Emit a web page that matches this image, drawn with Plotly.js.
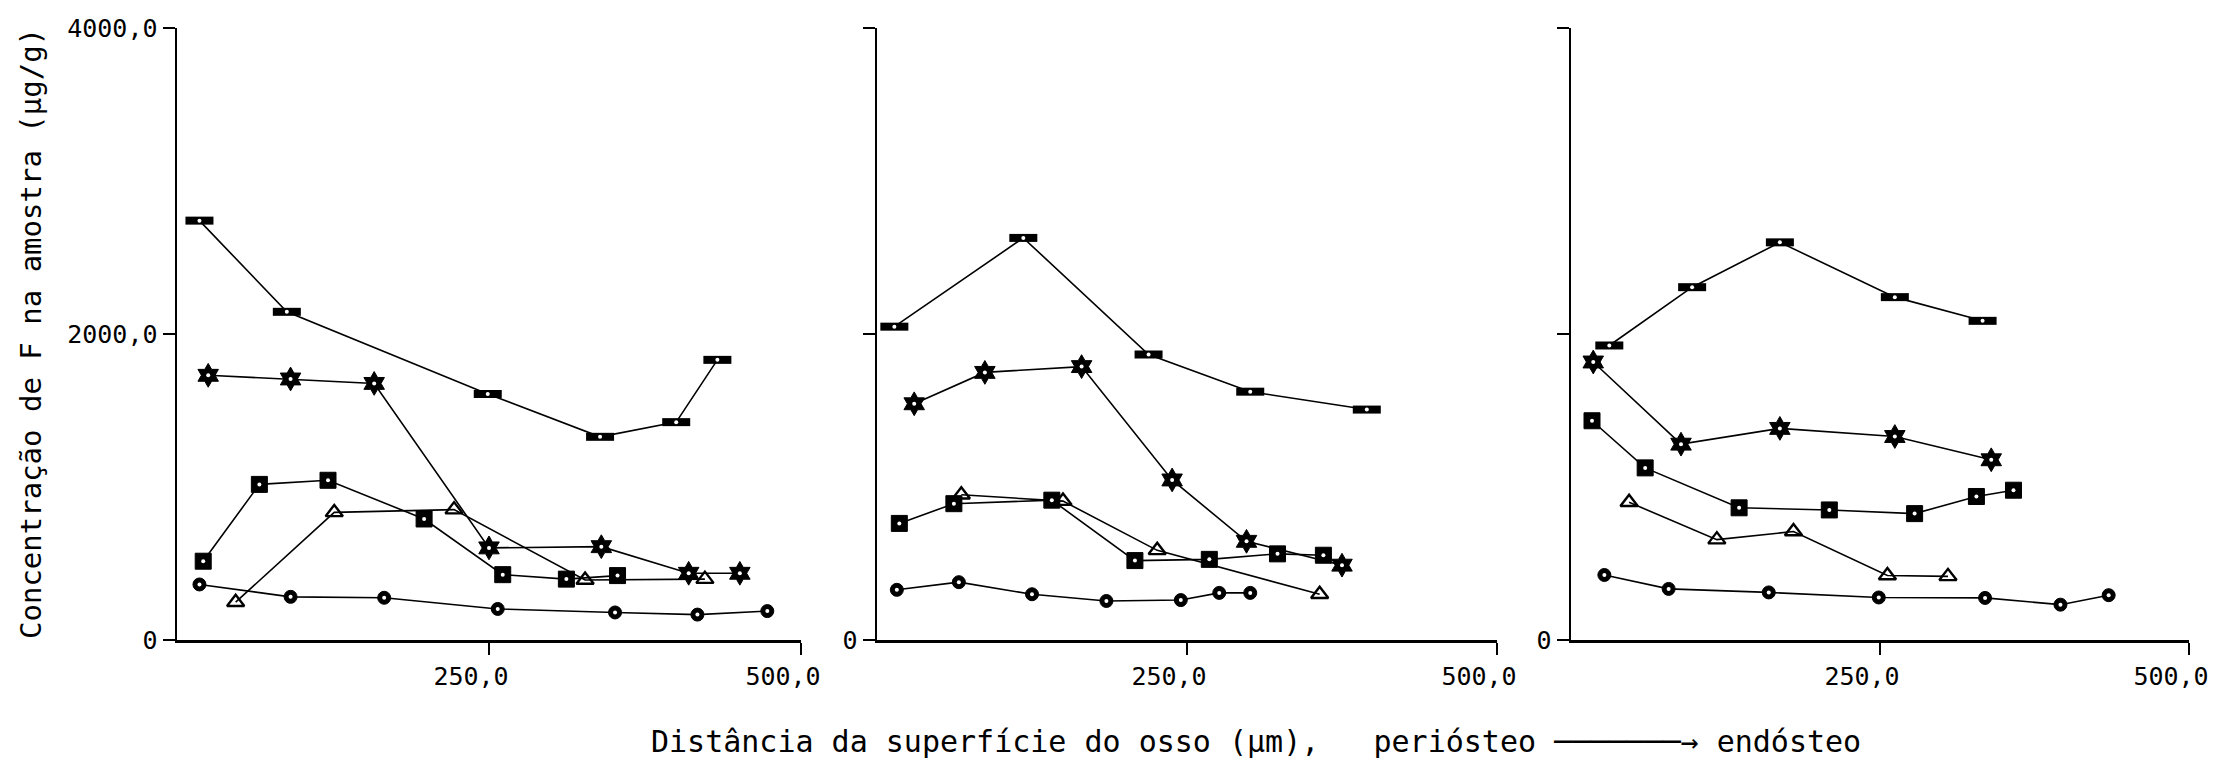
<!DOCTYPE html>
<html><head><meta charset="utf-8">
<script src="https://cdn.plot.ly/plotly-3.0.1.min.js"></script>
<style>html,body{margin:0;padding:0;background:#fff;}</style>
</head><body>
<div id="chart" style="width:2221px;height:761px;"></div>
<script>
// ---- tick labels & titles ----
const xTickVals = [250, 500];
const xTickText = ['250,0', '500,0'];
const yTickVals = [0, 2000, 4000];
const yTickTextFirst = ['0', '2000,0', '4000,0'];
const yTickTextOther = ['0', '', ''];
const xTitle = 'Distância da superfície do osso (µm),\u00A0\u00A0\u00A0periósteo\u00A0───────→\u00A0endósteo';
const yTitle = 'Concentração de F na amostra (µg/g)';

// ---- Panel 1 ----
const p1BarX = [18, 88, 249, 339, 400, 433];
const p1BarY = [2741, 2145, 1608, 1328, 1424, 1831];
const p1StarX = [25, 91, 158, 250, 340, 410, 451];
const p1StarY = [1730, 1706, 1677, 602, 610, 436, 436];
const p1SquareX = [21, 66, 121, 198, 261, 312, 353];
const p1SquareY = [515, 1017, 1044, 791, 427, 398, 421];
const p1TriX = [47, 126, 222, 327, 423];
const p1TriY = [247, 834, 852, 392, 398];
const p1CircX = [18, 91, 166, 257, 351, 417, 473];
const p1CircY = [363, 282, 276, 203, 180, 166, 189];

// ---- Panel 2 ----
const p2BarX = [14, 118, 219, 301, 395];
const p2BarY = [2048, 2628, 1866, 1623, 1506];
const p2StarX = [30, 87, 165, 238, 298, 375];
const p2StarY = [1544, 1749, 1787, 1046, 645, 489];
const p2SquareX = [18, 62, 141, 208, 268, 323, 360];
const p2SquareY = [762, 891, 914, 519, 527, 563, 554];
const p2TriX = [68, 150, 226, 357];
const p2TriY = [949, 908, 586, 299];
const p2CircX = [16, 66, 125, 185, 245, 276, 301];
const p2CircY = [328, 378, 299, 255, 261, 308, 308];

// ---- Panel 3 ----
const p3BarX = [31, 98, 169, 262, 333];
const p3BarY = [1925, 2306, 2599, 2241, 2086];
const p3StarX = [18, 89, 169, 262, 340];
const p3StarY = [1817, 1280, 1383, 1330, 1178];
const p3SquareX = [17, 60, 136, 209, 278, 328, 358];
const p3SquareY = [1433, 1125, 864, 850, 826, 938, 979];
const p3TriX = [47, 118, 180, 256, 305];
const p3TriY = [900, 656, 709, 422, 416];
const p3CircX = [27, 79, 160, 249, 335, 396, 435];
const p3CircY = [425, 334, 311, 278, 275, 231, 293];

const FONT = 'DejaVu Sans Mono, monospace';
const W = 2221, H = 761;

const panels = [
  {xa: 'x', ya: 'y', bar: [p1BarX, p1BarY], star: [p1StarX, p1StarY], sq: [p1SquareX, p1SquareY], tri: [p1TriX, p1TriY], circ: [p1CircX, p1CircY]},
  {xa: 'x2', ya: 'y2', bar: [p2BarX, p2BarY], star: [p2StarX, p2StarY], sq: [p2SquareX, p2SquareY], tri: [p2TriX, p2TriY], circ: [p2CircX, p2CircY]},
  {xa: 'x3', ya: 'y3', bar: [p3BarX, p3BarY], star: [p3StarX, p3StarY], sq: [p3SquareX, p3SquareY], tri: [p3TriX, p3TriY], circ: [p3CircX, p3CircY]}
];

const LINE = {color: '#000', width: 1.6};
const traces = [];
const dots = [];
panels.forEach(p => {
  const base = (d, marker) => ({
    type: 'scatter', mode: 'lines+markers', x: d[0], y: d[1],
    xaxis: p.xa, yaxis: p.ya, line: LINE, marker: marker, showlegend: false, hoverinfo: 'x+y'
  });
  traces.push(base(p.bar, {symbol: 'line-ew', size: 20, color: '#000', line: {color: '#000', width: 8}}));
  traces.push(base(p.star, {symbol: 'hexagram', size: 18, color: '#000', line: {color: '#000', width: 1}}));
  traces.push(base(p.sq, {symbol: 'square', size: 16, color: '#000', line: {color: '#000', width: 1}}));
  traces.push(base(p.tri, {symbol: 'triangle-up-open', size: 15, color: '#000', line: {color: '#000', width: 2.4}}));
  traces.push(base(p.circ, {symbol: 'circle', size: 13, color: '#000', line: {color: '#000', width: 1}}));
  [p.bar, p.star, p.sq, p.circ].forEach(d => {
    dots.push({type: 'scatter', mode: 'markers', x: d[0], y: d[1], xaxis: p.xa, yaxis: p.ya,
      marker: {symbol: 'circle', size: 4, color: '#fff', line: {width: 0}}, showlegend: false, hoverinfo: 'skip'});
  });
});

const yDom = [1 - 640 / H, 1 - 28 / H];
const xDoms = [[177 / W, 801 / W], [877 / W, 1497 / W], [1571 / W, 2189 / W]];

function xAxis(i, anchor) {
  return {
    domain: xDoms[i], anchor: anchor, range: [0, 500],
    showline: true, linecolor: '#000', linewidth: 2.5,
    ticks: 'outside', ticklen: 12, tickwidth: 2.5, tickcolor: '#000',
    tickmode: 'array', tickvals: xTickVals, ticktext: xTickText,
    tickfont: {family: FONT, size: 25, color: '#000'}, ticklabelshift: -18,
    showgrid: false, zeroline: false, fixedrange: true
  };
}
function yAxis(i, anchor) {
  return {
    domain: yDom, anchor: anchor, range: [0, 4000],
    showline: true, linecolor: '#000', linewidth: 2.5,
    ticks: 'outside', ticklen: 12, tickwidth: 2.5, tickcolor: '#000',
    tickmode: 'array', tickvals: yTickVals, ticktext: i === 0 ? yTickTextFirst : yTickTextOther,
    tickfont: {family: FONT, size: 25, color: '#000'},
    showgrid: false, zeroline: false, fixedrange: true
  };
}

const layout = {
  width: W, height: H,
  margin: {l: 0, r: 0, t: 0, b: 0},
  paper_bgcolor: '#fff', plot_bgcolor: '#fff',
  showlegend: false,
  xaxis: xAxis(0, 'y'), yaxis: yAxis(0, 'x'),
  xaxis2: xAxis(1, 'y2'), yaxis2: yAxis(1, 'x2'),
  xaxis3: xAxis(2, 'y3'), yaxis3: yAxis(2, 'x3'),
  annotations: [
    {text: xTitle, xref: 'paper', yref: 'paper', x: 1256 / W, y: 1 - 741 / H,
     xanchor: 'center', yanchor: 'middle', showarrow: false,
     font: {family: FONT, size: 30, color: '#000'}},
    {text: yTitle, xref: 'paper', yref: 'paper', x: 31 / W, y: 1 - 334 / H,
     xanchor: 'center', yanchor: 'middle', showarrow: false, textangle: -90,
     font: {family: FONT, size: 29, color: '#000'}}
  ]
};

Plotly.newPlot('chart', traces.concat(dots), layout, {displayModeBar: false, staticPlot: true});
</script>
</body></html>
